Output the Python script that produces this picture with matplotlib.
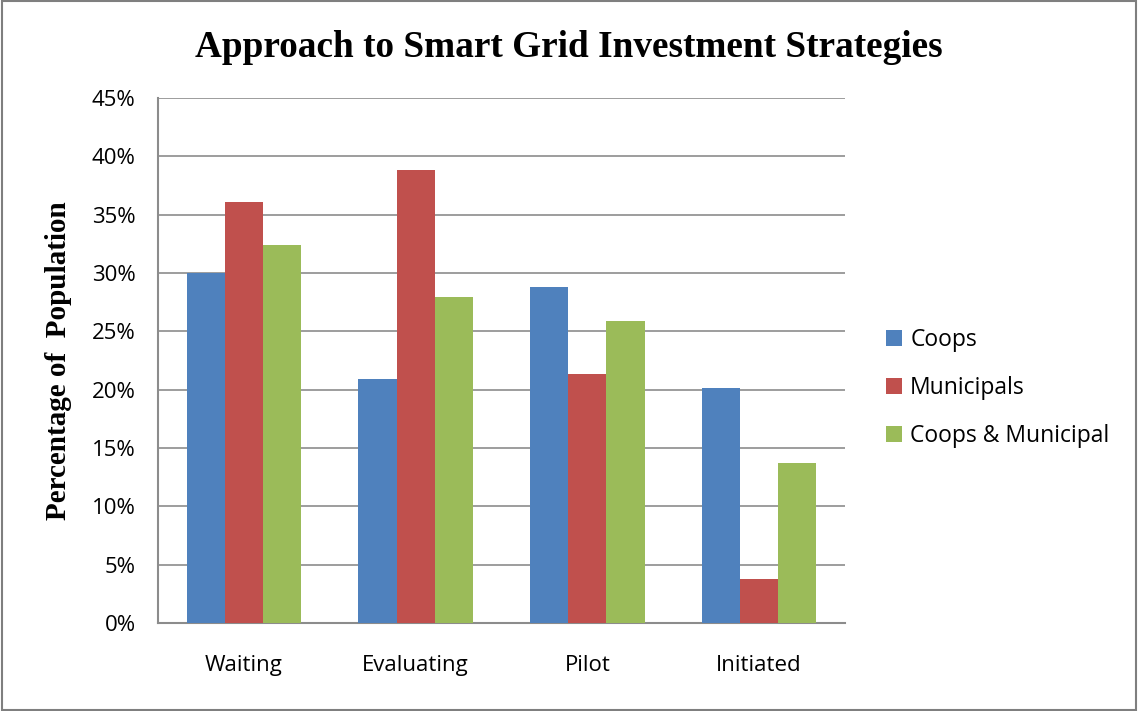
import numpy as np
import matplotlib.pyplot as plt
from matplotlib.ticker import FuncFormatter

categories = ['Waiting', 'Evaluating', 'Pilot', 'Initiated']
series = ['Coops', 'Municipals', 'Coops & Municipal']
coops = [30.0, 20.9, 28.8, 20.1]
municipals = [36.1, 38.8, 21.3, 3.8]
coops_muni = [32.4, 27.9, 25.9, 13.7]
colors = ['#4F81BD', '#C0504D', '#9BBB59']

fig = plt.figure(figsize=(11.38, 7.11), dpi=100)
ax = fig.add_axes([0.1388, 0.1238, 0.6037, 0.7384])

x = np.arange(len(categories))
w = 0.222
for i, (vals, name) in enumerate(zip([coops, municipals, coops_muni], series)):
    ax.bar(x + (i - 1) * w, vals, w, color=colors[i], label=name, zorder=3)

ax.set_xlim(-0.5, 3.5)
ax.set_ylim(0, 45)
ax.set_yticks(np.arange(0, 46, 5))
ax.yaxis.set_major_formatter(FuncFormatter(lambda v, p: '%d%%' % v))
ax.set_xticks(x)
ax.set_xticklabels(categories)
ax.tick_params(length=0, labelsize=16, pad=16)
ax.tick_params(axis='x', pad=23)
for lab in ax.get_xticklabels() + ax.get_yticklabels():
    lab.set_family('Open Sans')
ax.grid(axis='y', color='#8C8C8C', linewidth=1.2, zorder=0)
ax.spines['top'].set_visible(False)
ax.spines['right'].set_visible(False)
for s in ['left', 'bottom']:
    ax.spines[s].set_color('#8C8C8C')
    ax.spines[s].set_linewidth(1.5)

ax.set_ylabel('Percentage of  Population', family='Liberation Serif',
              fontweight='bold', fontsize=21, labelpad=14)
fig.text(0.5, 0.933, 'Approach to Smart Grid Investment Strategies',
         ha='center', va='center', family='Liberation Serif',
         fontweight='bold', fontsize=26.8)

leg = ax.legend(loc='center left', bbox_to_anchor=(1.06, 0.448), frameon=False,
                prop={'family': 'Open Sans', 'size': 16.5},
                handlelength=0.7, handleheight=0.7, labelspacing=1.05,
                handletextpad=0.35, borderaxespad=0, borderpad=0)

fig.patches.append(plt.Rectangle((0.002, 0.002), 0.996, 0.996, transform=fig.transFigure,
                                 fill=False, edgecolor='#7F7F7F', linewidth=1.5))

fig.savefig('out.png', dpi=100)
